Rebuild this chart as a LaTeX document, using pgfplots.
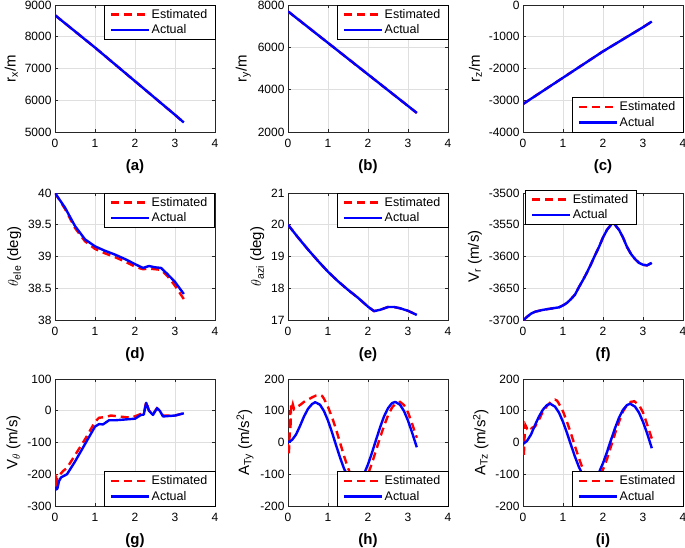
\documentclass[border=0pt]{standalone}
\usepackage{fontspec}
\setmainfont{Liberation Sans}
\usepackage{pgfplots}
\pgfplotsset{compat=1.18}
\definecolor{gridgray}{RGB}{223,223,223}
\definecolor{axgray}{RGB}{38,38,38}
\definecolor{mred}{RGB}{255,0,0}
\definecolor{mblue}{RGB}{0,0,255}
\pgfplotsset{
  sub/.style={
    width=160pt, height=127pt, scale only axis,
    anchor=north west,
    xmin=0, xmax=4, xtick={0,1,2,3,4},
    grid=major, major grid style={gridgray, line width=0.6pt},
    axis line style={axgray, line width=0.6pt},
    tick style={axgray, line width=0.6pt}, major tick length=3pt,
    tick label style={font=\fontsize{12}{14}\selectfont, black},
    xticklabel style={yshift=-4pt},
    /pgf/number format/assume math mode=true,
    /pgf/number format/1000 sep={},
    scaled ticks=false,
    xlabel style={font=\fontsize{15}{17}\selectfont\bfseries, yshift=-4.5pt},
    ylabel style={font=\fontsize{15}{17}\selectfont},
    legend style={font=\fontsize{12.5}{14}\selectfont, draw=black, line width=0.5pt, fill=white,
      inner xsep=6pt, inner ysep=1.5pt, row sep=0pt, cells={anchor=west},
      nodes={inner xsep=1.5pt, inner ysep=2.5pt}},
    legend image code/.code={\draw[#1] (0pt,0pt) -- (38pt,0pt);},
  },
  est/.style={mred, line width=2.4pt, dash pattern=on 8pt off 5pt},
  act/.style={mblue, line width=2.4pt, solid, line join=round},
  ne/.style={legend style={at={(1,1)}, anchor=north east}},
  se/.style={legend style={at={(1,0)}, anchor=south east}},
}
\begin{document}
\begin{tikzpicture}
\path[use as bounding box] (0,0) rectangle (685pt,-547pt);
% (a)
\begin{axis}[sub, ne, at={(55pt,-5pt)}, ymin=5000, ymax=9000, ytick={5000,6000,7000,8000,9000},
  xlabel={(a)}, ylabel={r\textsubscript{x}/m}]
\addplot[est] coordinates {(0,8680) (0.5,8170) (1,7660) (1.5,7130) (2,6600) (2.5,6070) (3,5540) (3.22,5300)};
\addplot[act] coordinates {(0,8680) (0.5,8170) (1,7660) (1.5,7130) (2,6600) (2.5,6070) (3,5540) (3.22,5300)};
\legend{Estimated, Actual}
\end{axis}
% (b)
\begin{axis}[sub, ne, at={(288pt,-5pt)}, ymin=2000, ymax=8000, ytick={2000,4000,6000,8000},
  xlabel={(b)}, ylabel={r\textsubscript{y}/m}]
\addplot[est] coordinates {(0,7700) (1,6210) (2,4720) (3,3230) (3.22,2900)};
\addplot[act] coordinates {(0,7700) (1,6210) (2,4720) (3,3230) (3.22,2900)};
\legend{Estimated, Actual}
\end{axis}
% (c)
\begin{axis}[sub, se, at={(523pt,-5pt)}, ymin=-4000, ymax=0, ytick={-4000,-3000,-2000,-1000,0},
  xlabel={(c)}, ylabel={r\textsubscript{z}/m}]
\addplot[est] coordinates {(0,-3120) (1,-2290) (2,-1460) (3,-700) (3.22,-520)};
\addplot[act] coordinates {(0,-3120) (1,-2290) (2,-1460) (3,-700) (3.22,-520)};
\legend{Estimated, Actual}
\end{axis}
% (d)
\begin{axis}[sub, ne, at={(55pt,-193pt)}, ymin=38, ymax=40, ytick={38,38.5,39,39.5,40},
  xlabel={(d)}, ylabel={$\theta_{\mathrm{ele}}$ (deg)}]
\addplot[est] coordinates {(0,40) (0.25,39.75) (0.5,39.45) (0.75,39.24) (1,39.12) (1.25,39.05) (1.5,38.99) (1.75,38.92) (2,38.84) (2.2,38.80) (2.35,38.81) (2.5,38.80) (2.65,38.79) (2.8,38.70) (3.0,38.54) (3.22,38.33)};
\addplot[act] coordinates {(0,40) (0.25,39.77) (0.5,39.48) (0.75,39.27) (1,39.16) (1.25,39.09) (1.5,39.03) (1.75,38.96) (2,38.88) (2.2,38.82) (2.35,38.85) (2.5,38.83) (2.65,38.82) (2.8,38.73) (3.0,38.60) (3.22,38.41)};
\legend{Estimated, Actual}
\end{axis}
% (e)
\begin{axis}[sub, ne, at={(288pt,-193pt)}, ymin=17, ymax=21, ytick={17,18,19,20,21},
  xlabel={(e)}, ylabel={$\theta_{\mathrm{azi}}$ (deg)}]
\addplot[est] coordinates {(0,20.0) (0.25,19.6) (0.5,19.22) (0.75,18.86) (1,18.52) (1.25,18.22) (1.5,17.95) (1.75,17.7) (2,17.42) (2.15,17.28) (2.3,17.32) (2.5,17.41) (2.65,17.41) (2.8,17.37) (3.0,17.29) (3.22,17.16)};
\addplot[act] coordinates {(0,20.0) (0.25,19.6) (0.5,19.22) (0.75,18.86) (1,18.52) (1.25,18.22) (1.5,17.95) (1.75,17.7) (2,17.42) (2.15,17.28) (2.3,17.32) (2.5,17.41) (2.65,17.41) (2.8,17.37) (3.0,17.29) (3.22,17.16)};
\legend{Estimated, Actual}
\end{axis}
% (f)
\begin{axis}[sub, at={(523pt,-193pt)}, ymin=-3700, ymax=-3500, ytick={-3700,-3650,-3600,-3550,-3500},
  legend style={at={(0.01,1.025)}, anchor=north west},
  xlabel={(f)}, ylabel={V\textsubscript{r} (m/s)}]
\addplot[est] coordinates {(0,-3700) (0.05,-3698) (0.1,-3695) (0.2,-3690) (0.3,-3687) (0.5,-3684) (0.7,-3682) (0.9,-3680) (1.0,-3677) (1.1,-3673) (1.2,-3667) (1.3,-3660) (1.4,-3648) (1.5,-3637) (1.6,-3625) (1.7,-3612) (1.8,-3598) (1.9,-3585) (2.0,-3570) (2.1,-3558) (2.2,-3550) (2.25,-3547) (2.3,-3550) (2.4,-3558) (2.5,-3570) (2.6,-3585) (2.7,-3596) (2.8,-3604) (2.9,-3610) (3.0,-3613) (3.1,-3614) (3.22,-3610)};
\addplot[act] coordinates {(0,-3700) (0.05,-3698) (0.1,-3695) (0.2,-3690) (0.3,-3687) (0.5,-3684) (0.7,-3682) (0.9,-3680) (1.0,-3677) (1.1,-3673) (1.2,-3667) (1.3,-3660) (1.4,-3648) (1.5,-3637) (1.6,-3625) (1.7,-3612) (1.8,-3598) (1.9,-3585) (2.0,-3570) (2.1,-3558) (2.2,-3550) (2.25,-3547) (2.3,-3550) (2.4,-3558) (2.5,-3570) (2.6,-3585) (2.7,-3596) (2.8,-3604) (2.9,-3610) (3.0,-3613) (3.1,-3614) (3.22,-3610)};
\legend{Estimated, Actual}
\end{axis}
% (g)
\begin{axis}[sub, se, at={(55pt,-379pt)}, ymin=-300, ymax=100, ytick={-300,-200,-100,0,100},
  xlabel={(g)}, ylabel={V\textsubscript{$\theta$} (m/s)}]
\addplot[est] coordinates {(0,-220) (0.01,-200) (0.02,-245) (0.03,-205) (0.04,-230) (0.06,-210) (0.1,-205) (0.2,-190) (0.3,-180) (0.5,-140) (0.75,-90) (1.0,-35) (1.1,-22) (1.25,-20) (1.4,-15) (1.6,-18) (1.9,-22) (2.05,-15) (2.15,-10) (2.22,-8) (2.28,28) (2.35,0) (2.45,-10) (2.55,8) (2.62,0) (2.7,-15) (3.0,-15) (3.22,-8)};
\addplot[act] coordinates {(0,-240) (0.03,-248) (0.06,-245) (0.1,-222) (0.15,-210) (0.3,-200) (0.5,-160) (0.75,-105) (1.0,-50) (1.1,-42) (1.2,-43) (1.35,-30) (1.5,-30) (2.0,-25) (2.15,-13) (2.22,-12) (2.28,25) (2.35,0) (2.45,-13) (2.55,8) (2.62,0) (2.7,-18) (3.0,-15) (3.22,-8)};
\legend{Estimated, Actual}
\end{axis}
% (h)
\begin{axis}[sub, se, at={(288pt,-379pt)}, ymin=-200, ymax=200, ytick={-200,-100,0,100,200},
  xlabel={(h)}, ylabel={A\textsubscript{Ty} (m/s\textsuperscript{2})}]
\addplot[est] coordinates {(0,-5) (0.02,-40) (0.04,20) (0.05,100) (0.06,40) (0.08,120) (0.1,110) (0.12,120) (0.15,105) (0.2,110) (0.3,118) (0.4,128) (0.5,135) (0.6,142) (0.7,148) (0.8,150) (0.85,147) (0.9,138) (1.0,112) (1.1,80) (1.2,42) (1.3,0) (1.4,-42) (1.5,-80) (1.6,-112) (1.7,-132) (1.8,-138) (1.9,-125) (2.0,-100) (2.1,-65) (2.2,-25) (2.3,15) (2.4,52) (2.5,85) (2.6,110) (2.7,124) (2.8,128) (2.9,118) (3.0,95) (3.1,60) (3.22,15)};
\addplot[act] coordinates {(0,0) (0.1,8) (0.2,25) (0.3,52) (0.4,82) (0.5,106) (0.6,121) (0.68,127) (0.8,119) (0.9,99) (1.0,69) (1.1,32) (1.2,-8) (1.3,-47) (1.4,-82) (1.5,-108) (1.6,-124) (1.68,-128) (1.8,-119) (1.9,-99) (2.0,-69) (2.1,-32) (2.2,8) (2.3,47) (2.4,82) (2.5,108) (2.6,124) (2.68,128) (2.8,119) (2.9,99) (3.0,69) (3.1,32) (3.22,-15)};
\legend{Estimated, Actual}
\end{axis}
% (i)
\begin{axis}[sub, se, at={(523pt,-379pt)}, ymin=-200, ymax=200, ytick={-200,-100,0,100,200},
  xlabel={(i)}, ylabel={A\textsubscript{Tz} (m/s\textsuperscript{2})}]
\addplot[est] coordinates {(0,-10) (0.02,-45) (0.04,20) (0.06,55) (0.08,50) (0.1,45) (0.15,52) (0.2,45) (0.3,50) (0.4,72) (0.5,98) (0.6,115) (0.7,128) (0.8,135) (0.85,132) (0.9,122) (1.0,98) (1.1,65) (1.2,28) (1.3,-12) (1.4,-50) (1.5,-85) (1.6,-110) (1.7,-125) (1.8,-122) (1.9,-108) (2.0,-85) (2.1,-52) (2.2,-12) (2.3,28) (2.4,65) (2.5,98) (2.6,118) (2.7,128) (2.78,130) (2.9,118) (3.0,95) (3.1,58) (3.22,12)};
\addplot[act] coordinates {(0,-5) (0.1,5) (0.2,25) (0.3,55) (0.4,82) (0.5,104) (0.6,118) (0.68,122) (0.8,113) (0.9,94) (1.0,65) (1.1,30) (1.2,-8) (1.3,-45) (1.4,-78) (1.5,-103) (1.6,-118) (1.68,-122) (1.8,-113) (1.9,-94) (2.0,-65) (2.1,-30) (2.2,8) (2.3,45) (2.4,78) (2.5,103) (2.6,118) (2.68,122) (2.8,113) (2.9,94) (3.0,65) (3.1,30) (3.22,-18)};
\legend{Estimated, Actual}
\end{axis}
\end{tikzpicture}
\end{document}
